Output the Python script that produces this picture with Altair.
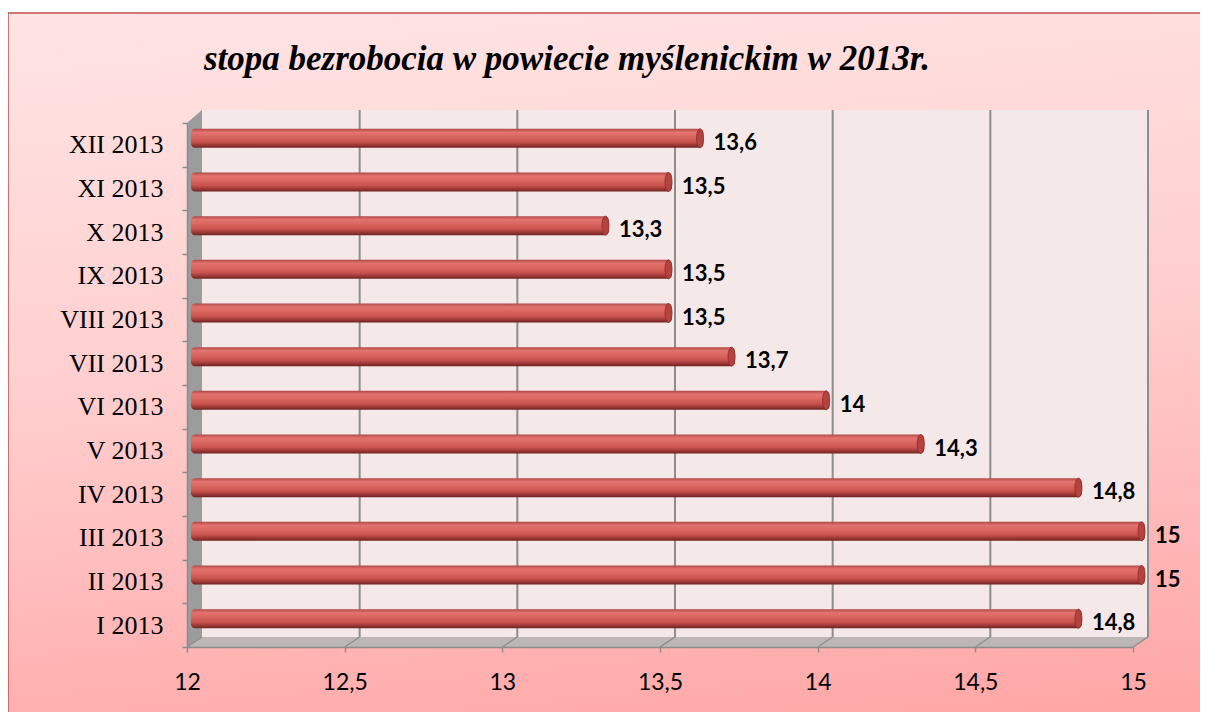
import altair as alt
import pandas as pd

# ---------------- data ----------------
months = ["I 2013", "II 2013", "III 2013", "IV 2013", "V 2013", "VI 2013",
          "VII 2013", "VIII 2013", "IX 2013", "X 2013", "XI 2013", "XII 2013"]
rates = [14.8, 15, 15, 14.8, 14.3, 14, 13.7, 13.5, 13.5, 13.3, 13.5, 13.6]
x_ticks = [12, 12.5, 13, 13.5, 14, 14.5, 15]
grid_back = [12.5, 13, 13.5, 14, 14.5, 15]
title_text = "stopa bezrobocia w powiecie myślenickim w 2013r."

df = pd.DataFrame({"m": months, "v": rates})
df_grid = pd.DataFrame({"g": grid_back})
df_ticks = pd.DataFrame({"g": x_ticks})

# ---------------- geometry (pixels) ----------------
W, H = 946, 524          # front plot area
DX = 15                  # depth shift (x)
BACK_TOP, BACK_BOT = -13, 514

# decorative 3D frame polygons (pixel space)
side_wall = pd.DataFrame({"px": [0, DX], "top": [0, BACK_TOP], "bot": [H, BACK_BOT]})
floor = pd.DataFrame({"px": [0, DX, W, W + DX],
                      "top": [H, BACK_BOT, BACK_BOT, BACK_BOT],
                      "bot": [H, H, H, BACK_BOT]})

def xscale():
    return alt.Scale(domain=[12, 15], nice=False, zero=False)

yorder = list(reversed(months))

bg_grad = alt.Gradient(
    gradient="linear",
    stops=[alt.GradientStop(color="#FFE4E4", offset=0),
           alt.GradientStop(color="#FFCFCF", offset=0.45),
           alt.GradientStop(color="#FFA4A4", offset=1)],
    x1=0, x2=0.15, y1=0, y2=1)

bar_grad = alt.Gradient(
    gradient="linear",
    stops=[alt.GradientStop(color="#B04845", offset=0),
           alt.GradientStop(color="#E2736F", offset=0.18),
           alt.GradientStop(color="#DB6762", offset=0.4),
           alt.GradientStop(color="#C9524E", offset=0.68),
           alt.GradientStop(color="#9B3835", offset=0.86),
           alt.GradientStop(color="#6E2220", offset=1)],
    x1=0, x2=0, y1=0, y2=1)

one = pd.DataFrame({"k": [0]})

# ---------- group 1: background, back wall, back gridlines ----------
bg = alt.Chart(one).mark_rect(
    fill=bg_grad, stroke="#C0504D", strokeWidth=1.5
).encode(x=alt.value(-179), x2=alt.value(1100), y=alt.value(-110), y2=alt.value(700))

back = alt.Chart(one).mark_rect(
    color="#F5E8E8", xOffset=DX, x2Offset=DX
).encode(x=alt.datum(12, scale=xscale(), axis=None), x2=alt.datum(15),
         y=alt.value(BACK_TOP), y2=alt.value(BACK_BOT))

grid = alt.Chart(df_grid).mark_rule(
    color="#8E8E8E", strokeWidth=2, xOffset=DX
).encode(x=alt.X("g:Q", scale=xscale(), axis=None),
         y=alt.value(BACK_TOP), y2=alt.value(BACK_BOT))

group1 = alt.layer(bg, back, grid)

# ---------- group 2: side wall and floor (pixel space) ----------
side = alt.Chart(side_wall).mark_area(color="#9C9C9C", opacity=1).encode(
    x=alt.X("px:Q", scale=None, axis=None),
    y=alt.Y("top:Q", scale=None, axis=None),
    y2="bot:Q")

flo = alt.Chart(floor).mark_area(color="#BDB6B6", opacity=1).encode(
    x=alt.X("px:Q", scale=None, axis=None),
    y=alt.Y("top:Q", scale=None, axis=None),
    y2="bot:Q")

group2 = alt.layer(side, flo)

# ---------- group 3: floor diagonals, bars, labels, axes ----------
diag = alt.Chart(df_ticks).mark_rule(
    color="#8E8E8E", strokeWidth=1.5, x2Offset=DX
).encode(x=alt.X("g:Q", scale=xscale()), x2="g:Q",
         y=alt.value(H), y2=alt.value(BACK_BOT))

ydef = alt.Y("m:N", sort=yorder, title=None,
             scale=alt.Scale(paddingInner=0, paddingOuter=0),
             axis=alt.Axis(orient="left", zindex=2,
                           labelFont="Liberation Serif", labelFontSize=26,
                           labelColor="black", tickColor="#8C8C8C",
                           domainColor="#8C8C8C", domainWidth=1.5,
                           tickSize=5, tickWidth=1.5, tickBand="extent",
                           labelPadding=19))

xdef = alt.X("v:Q", scale=xscale(), title=None,
             axis=alt.Axis(orient="bottom", zindex=2, values=x_ticks, grid=False,
                           labelFlush=False, labelOverlap=False,
                           labelExpr="replace(toString(datum.value), '.', ',')",
                           labelFont="Lato", labelFontSize=23, labelColor="black",
                           tickColor="#8C8C8C", domainColor="#8C8C8C",
                           domainWidth=1.5, tickSize=5, tickWidth=1.5,
                           labelPadding=19))

base = alt.Chart(df)

bars = base.mark_bar(
    fill=bar_grad, size=19, cornerRadius=4, xOffset=12, x2Offset=4, yOffset=-6.5
).encode(y=ydef, x=xdef, x2=alt.datum(12))

ellipse = "M 0 -1 A 0.37 1 0 1 1 0 1 A 0.37 1 0 1 1 0 -1 Z"
caps = base.mark_point(
    shape=ellipse, size=361, filled=True, fill="#B6423E", stroke="#8A2D2B",
    strokeWidth=0.8, opacity=1, xOffset=8.5, yOffset=-6.5
).encode(y=alt.Y("m:N", sort=yorder), x="v:Q")

labels = base.mark_text(
    align="left", baseline="middle", font="Lato", fontSize=22,
    fontWeight="bold", color="black", xOffset=22, yOffset=-2
).transform_calculate(
    lab="replace(toString(datum.v), '.', ',')"
).encode(y=alt.Y("m:N", sort=yorder), x="v:Q", text="lab:N")

title = alt.Chart(pd.DataFrame({"t": [title_text]})).mark_text(
    font="Liberation Serif", fontSize=35, fontWeight="bold", fontStyle="italic",
    color="black", align="center", baseline="alphabetic"
).encode(text="t:N", x=alt.value(380), y=alt.value(-53))

group3 = alt.layer(diag, bars, caps, labels, title)

chart = alt.layer(group1, group2, group3).resolve_scale(
    x="independent", y="independent"
).properties(
    width=W, height=H,
    padding={"left": 179, "top": 115, "right": 67, "bottom": 65},
    autosize=alt.AutoSizeParams(type="none"),
    background="white",
).configure_view(stroke=None)

chart.save("out.html", embed_options={"renderer": "svg", "actions": False})
